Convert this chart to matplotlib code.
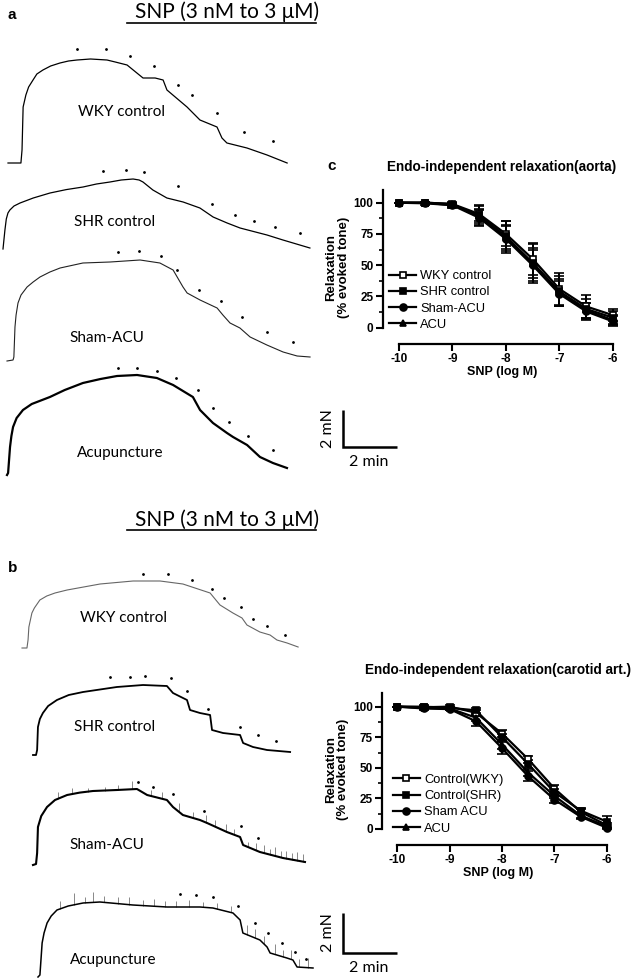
import matplotlib
matplotlib.use("Agg")
import matplotlib.pyplot as plt
from matplotlib.lines import Line2D
import numpy as np

# ---- isometric tension traces (time in min, tension in mN above baseline) ----
a_wky_t = [0, 0.47, 0.51, 0.55, 0.65, 0.75, 0.91, 1.05, 1.27, 1.55, 1.89, 2.2, 2.51, 3.0, 3.6, 3.9, 4.33, 4.91, 5.35, 5.64, 5.78, 6.51, 6.98, 7.6, 7.78, 7.96, 8.69, 9.42, 10.15]
a_wky_f = [0.05, 0.05, 0.7, 2.85, 3.45, 3.85, 4.2, 4.5, 4.7, 4.9, 5.05, 5.15, 5.2, 5.25, 5.2, 5.1, 4.95, 4.3, 4.3, 4.2, 3.7, 2.85, 2.2, 1.85, 1.3, 1.05, 0.8, 0.45, 0.05]
a_wky_dt = [2.51, 3.56, 4.44, 5.31, 6.18, 6.69, 7.6, 8.58, 9.64]
a_wky_df = [5.5, 5.5, 5.15, 4.65, 3.7, 3.2, 2.3, 1.35, 0.9]

a_shr_t = [0, 0.07, 0.12, 0.18, 0.25, 0.4, 0.62, 1.1, 1.71, 2.3, 2.91, 3.4, 3.89, 4.3, 4.73, 4.95, 5.09, 5.45, 5.96, 6.55, 7.16, 7.64, 8.15, 8.62, 9.6, 10.18, 11.16]
a_shr_f = [0, 0.95, 1.5, 1.8, 1.95, 2.15, 2.3, 2.55, 2.8, 2.97, 3.1, 3.25, 3.35, 3.45, 3.5, 3.45, 3.35, 2.95, 2.55, 2.35, 2.05, 1.6, 1.3, 1.05, 0.7, 0.45, 0.05]
a_shr_dt = [3.64, 4.47, 5.13, 6.36, 7.6, 8.44, 9.13, 9.89, 10.8]
a_shr_df = [3.65, 3.7, 3.6, 2.9, 2.0, 1.45, 1.15, 0.85, 0.55]

a_sham_t = [0, 0.22, 0.25, 0.29, 0.33, 0.4, 0.51, 0.73, 0.95, 1.2, 1.56, 1.93, 2.76, 3.75, 4.84, 5.56, 6.04, 6.4, 6.55, 7.02, 7.64, 7.85, 8.11, 8.47, 8.84, 9.45, 10.04, 10.55, 11.02]
a_sham_f = [0, 0.05, 0.2, 1.7, 2.3, 2.9, 3.3, 3.7, 3.95, 4.2, 4.45, 4.65, 4.9, 4.95, 5.05, 4.9, 4.55, 3.7, 3.4, 3.05, 2.65, 2.3, 1.9, 1.65, 1.2, 0.8, 0.45, 0.25, 0.2]
a_sham_dt = [4.04, 4.8, 5.6, 6.18, 6.98, 7.78, 8.55, 9.45, 10.4]
a_sham_df = [5.2, 5.25, 5.0, 4.3, 3.3, 2.75, 1.95, 1.2, 0.7]

a_acu_t = [0, 0.04, 0.11, 0.16, 0.22, 0.35, 0.58, 0.9, 1.56, 2.1, 2.76, 3.4, 4.0, 4.73, 5.45, 6.04, 6.76, 7.02, 7.49, 8.0, 8.22, 8.73, 9.2, 9.67, 10.18]
a_acu_f = [0, 0.1, 1.4, 1.95, 2.4, 2.85, 3.25, 3.55, 3.9, 4.25, 4.6, 4.8, 4.95, 5.0, 4.85, 4.5, 3.9, 3.25, 2.6, 2.1, 1.9, 1.5, 0.9, 0.6, 0.35]
a_acu_dt = [4.04, 4.73, 5.45, 6.15, 6.95, 7.49, 8.07, 8.76, 9.67]
a_acu_df = [5.1, 5.1, 4.95, 4.6, 4.0, 3.1, 2.4, 1.7, 1.0]

b_wky_t = [0, 0.18, 0.22, 0.25, 0.36, 0.45, 0.65, 0.9, 1.2, 1.64, 2.84, 4.04, 5.02, 5.85, 6.84, 7.2, 7.67, 8.0, 8.18, 8.65, 9.02, 9.27, 9.64, 10.04]
b_wky_f = [0, 0, 0.4, 1.05, 1.75, 2.0, 2.4, 2.6, 2.75, 2.9, 3.2, 3.35, 3.35, 3.2, 2.75, 2.15, 1.75, 1.5, 1.15, 0.8, 0.65, 0.4, 0.25, 0.05]
b_wky_dt = [4.4, 5.31, 6.18, 6.91, 7.35, 7.96, 8.4, 8.91, 9.56]
b_wky_df = [3.45, 3.45, 3.15, 2.7, 2.25, 1.8, 1.2, 0.85, 0.4]

b_shr_t = [0, 0.11, 0.15, 0.18, 0.25, 0.36, 0.55, 0.87, 1.3, 1.82, 3.05, 4.0, 4.87, 5.09, 5.6, 5.71, 6.07, 6.44, 6.51, 6.91, 7.53, 7.64, 8.0, 8.51, 9.35]
b_shr_f = [0, 0, 0.25, 1.4, 1.8, 2.1, 2.45, 2.75, 3.0, 3.15, 3.4, 3.5, 3.45, 3.1, 2.75, 2.25, 2.1, 2.0, 1.25, 1.1, 1.0, 0.6, 0.4, 0.25, 0.15]
b_shr_dt = [2.8, 3.53, 4.07, 5.02, 5.6, 6.36, 7.53, 8.18, 8.84]
b_shr_df = [3.65, 3.65, 3.7, 3.6, 2.95, 2.05, 1.15, 0.75, 0.45]

b_sham_t = [0, 0.11, 0.15, 0.18, 0.3, 0.51, 0.8, 1.24, 1.7, 2.18, 3.05, 3.78, 4.15, 4.87, 5.09, 5.45, 6.07, 6.33, 7.05, 7.53, 7.64, 8.25, 9.09, 9.89]
b_sham_f = [0, 0.05, 0.6, 1.9, 2.45, 2.9, 3.25, 3.5, 3.62, 3.7, 3.75, 3.8, 3.5, 3.25, 2.9, 2.5, 2.25, 2.1, 1.65, 1.4, 1.0, 0.65, 0.35, 0.15]
b_sham_dt = [3.82, 4.36, 5.09, 6.22, 7.56, 8.18]
b_sham_df = [3.9, 3.65, 3.3, 2.45, 1.7, 1.1]
b_sham_spike_t = [0.9, 1.4, 2.0, 2.6, 3.1, 3.6, 4.3, 4.7, 5.3, 5.8, 6.3, 6.6, 7.0, 7.3, 7.8, 8.1, 8.4, 8.6, 8.8, 9.0, 9.2, 9.4, 9.6, 9.8]
b_sham_spike_h = [0.35, 0.3, 0.2, 0.2, 0.25, 0.4, 0.3, 0.35, 0.45, 0.3, 0.4, 0.3, 0.35, 0.3, 0.25, 0.35, 0.4, 0.3, 0.45, 0.3, 0.4, 0.35, 0.45, 0.4]

b_acu_t = [0, 0.07, 0.15, 0.22, 0.33, 0.48, 0.69, 1.1, 1.64, 2.25, 3.45, 4.69, 5.89, 6.36, 7.09, 7.35, 7.45, 8.07, 8.33, 8.44, 9.05, 9.27, 9.42, 10.0]
b_acu_f = [0, 0.1, 1.7, 2.2, 2.7, 3.05, 3.35, 3.55, 3.7, 3.75, 3.6, 3.5, 3.5, 3.45, 3.2, 2.85, 2.2, 1.85, 1.5, 1.2, 0.95, 0.85, 0.5, 0.45]
b_acu_dt = [5.16, 5.75, 6.36, 7.27, 7.89, 8.36, 8.87, 9.35, 9.75]
b_acu_df = [3.9, 3.85, 3.75, 3.3, 2.45, 1.95, 1.45, 1.0, 0.65]
b_acu_spike_t = [0.8, 1.3, 1.7, 2.0, 2.4, 2.9, 3.3, 3.8, 4.2, 4.6, 5.0, 5.5, 6.0, 6.5, 7.0, 7.6, 7.9, 8.2, 8.6, 8.9, 9.2, 9.5, 9.8]
b_acu_spike_h = [0.4, 0.6, 0.3, 0.5, 0.3, 0.35, 0.4, 0.3, 0.35, 0.3, 0.3, 0.35, 0.25, 0.3, 0.3, 0.5, 0.45, 0.4, 0.5, 0.35, 0.45, 0.4, 0.5]

trace_labels = ["WKY control", "SHR control", "Sham-ACU", "Acupuncture"]
snp_title = "SNP (3 nM to 3 \u03bcM)"

# ---- concentration-response data ----
log_snp = [-10, -9.5, -9, -8.5, -8, -7.5, -7, -6.5, -6]

aorta_labels = ["WKY control", "SHR control", "Sham-ACU", "ACU"]
aorta_wky = [100, 100, 99, 91, 75, 55, 31, 17, 10]
aorta_wky_se = [0, 0.5, 1.5, 6, 10, 13, 13, 9, 5]
aorta_shr = [100, 100, 98, 90, 73, 52, 29, 15, 8]
aorta_shr_se = [0, 0.5, 1.5, 8, 12, 15, 12, 8, 5]
aorta_sham = [100, 99.5, 98, 88, 71, 50, 27, 13, 5]
aorta_sham_se = [0, 1, 2, 7, 11, 14, 10, 7, 4]
aorta_acu = [100, 100, 99, 89, 72, 51, 28, 14, 6]
aorta_acu_se = [0, 0.5, 1, 5, 9, 11, 11, 6, 4]

carotid_labels = ["Control(WKY)", "Control(SHR)", "Sham ACU", "ACU"]
carotid_wky = [100, 99.5, 100, 95, 78, 57, 33, 14, 3]
carotid_wky_se = [0, 1, 1, 2, 3, 3, 3, 2, 2]
carotid_shr = [100, 100, 99, 97, 75, 53, 30, 15, 6]
carotid_shr_se = [0, 1, 1, 2, 3, 3, 3, 2, 5]
carotid_sham = [100, 98.5, 98, 88, 66, 43, 24, 10, 1]
carotid_sham_se = [0, 1, 1, 4, 5, 4, 3, 2, 1]
carotid_acu = [100, 99, 98.5, 91, 69, 46, 27, 11, 2]
carotid_acu_se = [0, 1, 1, 3, 4, 3, 2, 2, 1]

W, H = 638, 980
PX_MIN = 27.5   # pixels per minute
PX_MN = 20.0    # pixels per mN
CAL = ["Lato", "DejaVu Sans"]
ARIAL = ["Liberation Sans", "DejaVu Sans"]

fig = plt.figure(figsize=(W / 100, H / 100), dpi=100)
fig.patch.set_facecolor("white")
bg = fig.add_axes([0, 0, 1, 1])
bg.set_xlim(0, W)
bg.set_ylim(H, 0)
bg.axis("off")


def trace(t, f, dt, df, x0, y0, lw=0.9, color="black", spikes=None):
    t = np.array(t)
    f = np.array(f)
    if spikes is not None:
        st, sh = np.array(spikes[0]), np.array(spikes[1])
        base = np.interp(st, t, f)
        sx = x0 + st * PX_MIN
        bg.vlines(sx, y0 - base * PX_MN, y0 - (base + sh) * PX_MN,
                  color="#888888", lw=0.7)
    bg.plot(x0 + t * PX_MIN, y0 - f * PX_MN, color=color, lw=lw,
            solid_joinstyle="round")
    bg.plot(x0 + np.array(dt) * PX_MIN, y0 - np.array(df) * PX_MN - 5,
            ".", color="black", ms=2.0)


# panel a traces
trace(a_wky_t, a_wky_f, a_wky_dt, a_wky_df, 8, 164, lw=0.9)
trace(a_shr_t, a_shr_f, a_shr_dt, a_shr_df, 3, 249, lw=0.9)
trace(a_sham_t, a_sham_f, a_sham_dt, a_sham_df, 7, 361, lw=0.8, color="#222222")
trace(a_acu_t, a_acu_f, a_acu_dt, a_acu_df, 7, 475, lw=1.6)

# panel b traces
trace(b_wky_t, b_wky_f, b_wky_dt, b_wky_df, 22, 648, lw=0.8, color="#666666")
trace(b_shr_t, b_shr_f, b_shr_dt, b_shr_df, 33, 755, lw=1.3)
trace(b_sham_t, b_sham_f, b_sham_dt, b_sham_df, 33, 865, lw=1.5,
      spikes=(b_sham_spike_t, b_sham_spike_h))
trace(b_acu_t, b_acu_f, b_acu_dt, b_acu_df, 38, 977, lw=1.1,
      spikes=(b_acu_spike_t, b_acu_spike_h))

for lab, (x, y) in zip(trace_labels, [(122, 112), (115, 222), (107, 338), (120, 453)]):
    bg.text(x, y, lab, family=CAL, fontsize=11, ha="center", va="center")
for lab, (x, y) in zip(trace_labels, [(123, 618), (115, 727), (107, 845), (113, 960)]):
    bg.text(x, y, lab, family=CAL, fontsize=11, ha="center", va="center")

# SNP headers
for ty, ly in [(12, 23), (520, 530)]:
    bg.text(227, ty, snp_title, family=CAL, fontsize=15, ha="center", va="center")
    bg.plot([127, 316], [ly, ly], color="black", lw=1.2)

# panel letters
bg.text(8, 15, "a", family=ARIAL, fontsize=11, fontweight="bold", va="center")
bg.text(8, 568, "b", family=ARIAL, fontsize=11, fontweight="bold", va="center")
bg.text(327, 166, "c", family=ARIAL, fontsize=11, fontweight="bold", va="center")

# scale bars
for top, base in [(410, 447), (913, 953)]:
    bg.plot([342.5, 342.5, 397], [top, base, base], color="black", lw=1.8,
            solid_joinstyle="miter", solid_capstyle="butt")
    bg.text(369, base + 15, "2 min", family=CAL, fontsize=11.5, ha="center", va="center")
    bg.text(328, (top + base) / 2, "2 mN", family=CAL, fontsize=11.5, ha="center",
            va="center", rotation=90)


def dose_panel(rect, title, labels, series, ylim, legend_xy):
    ax = fig.add_axes(rect)
    markers = [("s", "white"), ("s", "black"), ("o", "black"), ("^", "black")]
    handles = []
    for (y, se), lab, (m, mfc) in zip(series, labels, markers):
        ax.errorbar(log_snp, y, yerr=se, color="black", lw=1.6, marker=m, ms=5,
                    mfc=mfc, mec="black", mew=1.2, capsize=3.5, capthick=1.4,
                    elinewidth=1.4)
        handles.append(Line2D([], [], color="black", lw=1.6, marker=m, ms=5,
                              mfc=mfc, mec="black", mew=1.2, label=lab))
    ax.set_xlim(-10.3, -5.85)
    ax.set_ylim(*ylim)
    for s in ["top", "right"]:
        ax.spines[s].set_visible(False)
    ax.spines["left"].set_bounds(0, ylim[1])
    ax.spines["bottom"].set_bounds(-10, -6)
    ax.spines["left"].set_linewidth(1.6)
    ax.spines["bottom"].set_linewidth(1.6)
    ax.set_xticks([-10, -9, -8, -7, -6])
    ax.set_xticklabels(["-10", "-9", "-8", "-7", "-6"])
    ax.set_yticks([0, 25, 50, 75, 100])
    ax.set_yticks([12.5, 37.5, 62.5, 87.5], minor=True)
    ax.tick_params(axis="both", which="major", width=1.5, length=5, pad=1.5)
    ax.tick_params(axis="y", which="minor", width=1.2, length=3)
    for lbl in ax.get_xticklabels() + ax.get_yticklabels():
        lbl.set_family(ARIAL)
        lbl.set_fontweight("bold")
        lbl.set_fontsize(8.5)
    ax.set_xlabel("SNP (log M)", family=ARIAL, fontweight="bold", fontsize=9, labelpad=1)
    ax.set_ylabel("Relaxation\n(% evoked tone)", family=ARIAL, fontweight="bold",
                  fontsize=9.5, labelpad=3, linespacing=1.0)
    ax.set_title(title, family=ARIAL, fontweight="bold", fontsize=9.8, pad=14)
    ax.legend(handles=handles, loc="upper left", bbox_to_anchor=legend_xy,
              frameon=False, prop={"family": ARIAL, "size": 9.3}, handlelength=2.1,
              handletextpad=0.3, labelspacing=0.32, borderpad=0, borderaxespad=0)
    ax.patch.set_alpha(0)
    return ax


dose_panel([382.6 / W, 1 - 344 / H, 238.5 / W, 153.8 / H],
           "Endo-independent relaxation(aorta)", aorta_labels,
           [(aorta_wky, aorta_wky_se), (aorta_shr, aorta_shr_se),
            (aorta_sham, aorta_sham_se), (aorta_acu, aorta_acu_se)],
           (-13, 110), (0.027, 0.48))

dose_panel([381.7 / W, 1 - 845 / H, 233 / W, 151.8 / H],
           "Endo-independent relaxation(carotid art.)", carotid_labels,
           [(carotid_wky, carotid_wky_se), (carotid_shr, carotid_shr_se),
            (carotid_sham, carotid_sham_se), (carotid_acu, carotid_acu_se)],
           (-13.1, 111), (0.048, 0.468))

fig.savefig("out.png", dpi=100)
